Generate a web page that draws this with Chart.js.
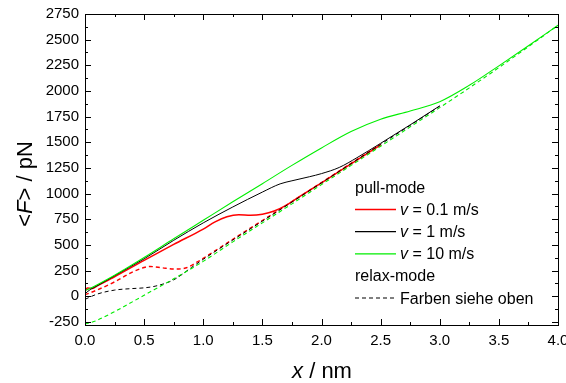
<!DOCTYPE html>
<html>
<head>
<meta charset="utf-8">
<script src="https://cdn.jsdelivr.net/npm/chart.js@4.4.0/dist/chart.umd.min.js"></script>
<style>
  html, body { margin: 0; padding: 0; background: #fff; }
  #wrap { width: 566px; height: 383px; }
</style>
</head>
<body>
<div id="wrap"><canvas id="forcechart"></canvas></div>
<script>
// pull-mode, v = 0.1 m/s
const pullRedX = [0, 0.02, 0.06, 0.1, 0.25, 0.5, 0.75, 1.0, 1.1, 1.2, 1.3, 1.4, 1.5, 1.6, 1.7, 1.8, 2.0, 2.25, 2.5];
const pullRedY = [50, 80, 75, 100, 190, 350, 505, 655, 725, 775, 795, 790, 800, 830, 885, 960, 1105, 1290, 1475];
// pull-mode, v = 1 m/s
const pullBlackX = [0, 0.05, 0.1, 0.25, 0.5, 0.75, 1.0, 1.25, 1.5, 1.65, 1.75, 1.9, 2.0, 2.15, 2.3, 2.5, 2.75, 3.0];
const pullBlackY = [25, 70, 100, 200, 365, 545, 715, 870, 1015, 1095, 1125, 1165, 1195, 1255, 1350, 1490, 1670, 1855];
// pull-mode, v = 10 m/s
const pullGreenX = [0, 0.05, 0.1, 0.25, 0.5, 0.75, 1.0, 1.25, 1.5, 1.75, 2.0, 2.25, 2.5, 2.75, 3.0, 3.25, 3.5, 3.75, 4.0];
const pullGreenY = [55, 80, 110, 205, 378, 560, 740, 920, 1097, 1275, 1445, 1605, 1725, 1805, 1895, 2055, 2245, 2440, 2640];
// relax-mode
const relaxRedX = [0, 0.1, 0.25, 0.4, 0.5, 0.55, 0.65, 0.75, 0.85, 0.95, 1.0, 1.25, 1.5, 1.75, 2.0, 2.25, 2.5];
const relaxRedY = [15, 60, 140, 235, 280, 290, 278, 265, 275, 335, 370, 555, 738, 922, 1108, 1295, 1480];
const relaxBlackX = [0, 0.1, 0.25, 0.4, 0.5, 0.6, 0.75, 0.9, 1.0, 1.25, 1.5, 1.75, 2.0, 2.25, 2.5, 2.75, 3.0];
const relaxBlackY = [-30, 20, 60, 75, 82, 100, 160, 280, 360, 548, 732, 918, 1105, 1292, 1480, 1665, 1852];
const relaxGreenX = [0, 0.05, 0.1, 0.25, 0.5, 0.75, 1.0, 1.25, 1.5, 1.75, 2.0, 2.25, 2.5, 2.75, 3.0, 3.25, 3.5, 3.75, 4.0];
const relaxGreenY = [-270, -255, -235, -150, 10, 170, 340, 530, 715, 900, 1088, 1275, 1462, 1650, 1838, 2030, 2228, 2432, 2640];

const xTicks = [0, 0.5, 1.0, 1.5, 2.0, 2.5, 3.0, 3.5, 4.0];
const yTicks = [-250, 0, 250, 500, 750, 1000, 1250, 1500, 1750, 2000, 2250, 2500, 2750];

const legendItems = [
  { text: 'pull-mode' },
  { color: '#ff0000', v: true, text: ' = 0.1 m/s' },
  { color: '#000000', v: true, text: ' = 1 m/s' },
  { color: '#00ee00', v: true, text: ' = 10 m/s' },
  { text: 'relax-mode' },
  { color: '#000000', dash: true, text: 'Farben siehe oben' }
];

const FONT = '"Liberation Sans", Arial, sans-serif';

function pts(xs, ys) {
  return xs.map((x, i) => ({ x: x, y: ys[i] }));
}

function series(xs, ys, color, dashed, width) {
  return {
    data: pts(xs, ys),
    borderColor: color,
    borderWidth: width,
    borderDash: dashed ? [4, 3] : [],
    pointRadius: 0,
    showLine: true,
    fill: false,
    cubicInterpolationMode: 'monotone'
  };
}

// frame, inside ticks on all sides, legend and axis titles
const decor = {
  id: 'decor',
  afterDraw(chart) {
    const c = chart.ctx;
    const a = chart.chartArea;
    const xs = chart.scales.x;
    const ys = chart.scales.y;
    c.save();
    c.strokeStyle = '#000';
    c.lineWidth = 1;
    c.strokeRect(Math.round(a.left) + 0.5, Math.round(a.top) + 0.5,
      Math.round(a.right - a.left), Math.round(a.bottom - a.top));

    c.beginPath();
    for (let v = 0; v <= 4.0001; v += 0.25) {
      const px = Math.round(xs.getPixelForValue(v)) + 0.5;
      const len = (Math.abs(v * 2 - Math.round(v * 2)) < 1e-6) ? 6 : 3;
      c.moveTo(px, a.bottom); c.lineTo(px, a.bottom - len);
      c.moveTo(px, a.top); c.lineTo(px, a.top + len);
    }
    for (let v = -250; v <= 2750; v += 125) {
      const py = Math.round(ys.getPixelForValue(v)) + 0.5;
      const len = (v % 250 === 0) ? 6 : 3;
      c.moveTo(a.left, py); c.lineTo(a.left + len, py);
      c.moveTo(a.right, py); c.lineTo(a.right - len, py);
    }
    c.stroke();

    // legend
    let y = 193;
    const lx = 355;
    c.font = '16px ' + FONT;
    c.fillStyle = '#000';
    c.textBaseline = 'alphabetic';
    legendItems.forEach(it => {
      if (it.color) {
        c.beginPath();
        c.strokeStyle = it.color;
        c.lineWidth = it.color === '#ff0000' ? 1.5 : 1.2;
        c.setLineDash(it.dash ? [4, 3] : []);
        c.moveTo(lx, y - 5.5);
        c.lineTo(lx + 41, y - 5.5);
        c.stroke();
        c.setLineDash([]);
        let tx = 400;
        if (it.v) {
          c.font = 'italic 16px ' + FONT;
          c.fillText('v', tx, y);
          tx += c.measureText('v').width;
          c.font = '16px ' + FONT;
        }
        c.fillText(it.text, tx, y);
      } else {
        c.fillText(it.text, lx, y);
      }
      y += 22.1;
    });

    // x title
    const parts = [['x', true], [' / nm', false]];
    const widthOf = (ps) => ps.reduce((s, p) => {
      c.font = (p[1] ? 'italic ' : '') + '22px ' + FONT;
      return s + c.measureText(p[0]).width;
    }, 0);
    let w = widthOf(parts);
    let tx = 322 - w / 2;
    parts.forEach(p => {
      c.font = (p[1] ? 'italic ' : '') + '22px ' + FONT;
      c.fillText(p[0], tx, 378);
      tx += c.measureText(p[0]).width;
    });

    // y title
    const yparts = [['<', false], ['F', true], ['> / pN', false]];
    w = widthOf(yparts);
    c.translate(32, 184);
    c.rotate(-Math.PI / 2);
    tx = -w / 2;
    yparts.forEach(p => {
      c.font = (p[1] ? 'italic ' : '') + '22px ' + FONT;
      c.fillText(p[0], tx, 0);
      tx += c.measureText(p[0]).width;
    });
    c.restore();
  }
};

new Chart(document.getElementById('forcechart'), {
  type: 'scatter',
  data: {
    datasets: [
      series(relaxGreenX, relaxGreenY, '#00ee00', true, 1.1),
      series(relaxBlackX, relaxBlackY, '#000000', true, 1),
      series(relaxRedX, relaxRedY, '#ff0000', true, 1.4),
      series(pullGreenX, pullGreenY, '#00ee00', false, 1.1),
      series(pullBlackX, pullBlackY, '#000000', false, 1),
      series(pullRedX, pullRedY, '#ff0000', false, 1.5)
    ]
  },
  options: {
    responsive: true,
    maintainAspectRatio: false,
    animation: false,
    layout: { padding: { top: 14, right: 8, left: 0, bottom: 0 } },
    plugins: { legend: { display: false }, tooltip: { enabled: false } },
    scales: {
      x: {
        type: 'linear',
        min: 0,
        max: 4,
        grid: { display: false, drawTicks: false },
        border: { display: false },
        afterBuildTicks: s => { s.ticks = xTicks.map(v => ({ value: v })); },
        afterFit: s => { s.height = 58; s.paddingLeft = 0; s.paddingRight = 0; },
        ticks: {
          color: '#000',
          padding: 7,
          maxRotation: 0,
          font: { family: FONT, size: 15 },
          callback: v => v.toFixed(1)
        }
      },
      y: {
        type: 'linear',
        min: -280,
        max: 2750,
        grid: { display: false, drawTicks: false },
        border: { display: false },
        afterBuildTicks: s => { s.ticks = yTicks.map(v => ({ value: v })); },
        afterFit: s => { s.width = 85; s.paddingTop = 0; s.paddingBottom = 0; },
        ticks: {
          color: '#000',
          padding: 6,
          font: { family: FONT, size: 15 },
          callback: v => String(v)
        }
      }
    }
  },
  plugins: [decor]
});
</script>
</body>
</html>
